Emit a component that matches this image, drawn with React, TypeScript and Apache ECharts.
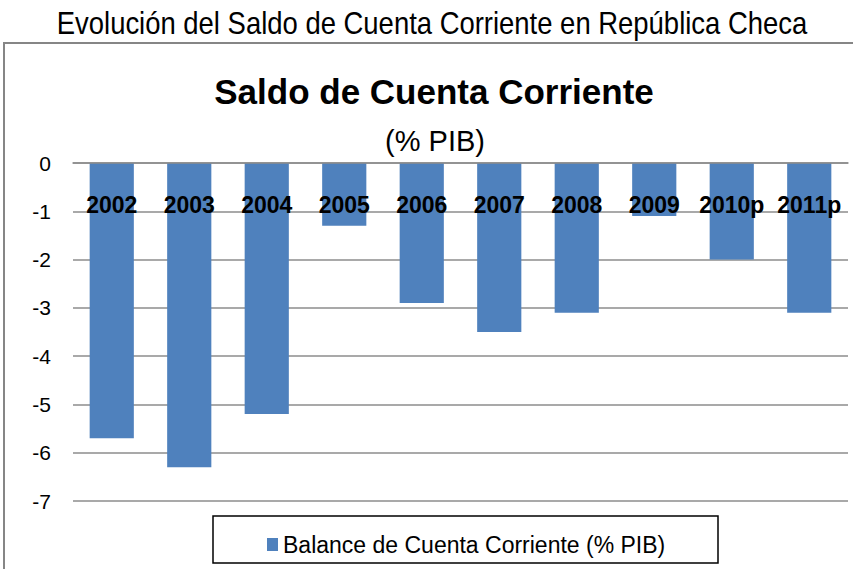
import React, { useEffect, useRef } from "react";
import * as echarts from "echarts";

const categories = ["2002", "2003", "2004", "2005", "2006", "2007", "2008", "2009", "2010p", "2011p"];
const balanceValues = [-5.7, -6.3, -5.2, -1.3, -2.9, -3.5, -3.1, -1.1, -2.0, -3.1];
const seriesName = "Balance de Cuenta Corriente (% PIB)";
const outerTitle = "Evolución del Saldo de Cuenta Corriente en República Checa";
const chartTitle = "Saldo de Cuenta Corriente";
const chartSubtitle = "(% PIB)";

export default function App() {
  const ref = useRef<HTMLDivElement>(null);
  useEffect(() => {
    if (!ref.current) return;
    const chart = echarts.init(ref.current, undefined, { renderer: "svg" });
    const gridColor = "#8c8c8c";
    const font = "'Liberation Sans', Arial, sans-serif";
    chart.setOption({
      animation: false,
      backgroundColor: "#ffffff",
      textStyle: { fontFamily: font },
      grid: { left: 73, right: 5, top: 163, bottom: 68, containLabel: false },
      xAxis: {
        type: "category",
        data: categories,
        position: "top",
        axisLine: { show: true, lineStyle: { color: gridColor, width: 1.5 } },
        axisTick: { show: false },
        axisLabel: {
          inside: true,
          margin: 30,
          fontSize: 23,
          fontWeight: "bold",
          color: "#000",
          fontFamily: font,
          interval: 0,
        },
        z: 10,
      },
      yAxis: {
        type: "value",
        min: -7,
        max: 0,
        interval: 1,
        axisLine: { show: false },
        axisTick: { show: false },
        axisLabel: { fontSize: 21, color: "#000", margin: 22 },
        splitLine: { show: true, lineStyle: { color: gridColor, width: 1.5 } },
      },
      legend: {
        data: [seriesName],
        left: 262,
        top: 528,
        icon: "rect",
        itemWidth: 11,
        itemHeight: 13,
        itemGap: 10,
        textStyle: { fontSize: 23, color: "#000" },
      },
      series: [
        {
          name: seriesName,
          type: "bar",
          data: balanceValues,
          barCategoryGap: "43%",
          itemStyle: { color: "#4F81BD" },
          z: 2,
        },
      ],
      graphic: [
        {
          type: "rect",
          shape: { x: 4, y: 43, width: 900, height: 600 },
          style: { fill: "none", stroke: "#868686", lineWidth: 2 },
          silent: true,
          z: 100,
        },
        {
          type: "rect",
          shape: { x: 213, y: 516, width: 505, height: 47 },
          style: { fill: "none", stroke: "#000", lineWidth: 1.5 },
          silent: true,
          z: 100,
        },
        {
          type: "text",
          x: 432,
          y: 23,
          scaleX: 0.858,
          style: {
            text: outerTitle,
            fontSize: 32,
            fontFamily: font,
            fill: "#000",
            align: "center",
            verticalAlign: "middle",
          },
          z: 100,
        },
        {
          type: "text",
          x: 434,
          y: 91,
          style: {
            text: chartTitle,
            fontSize: 35,
            fontWeight: "bold",
            fontFamily: font,
            fill: "#000",
            align: "center",
            verticalAlign: "middle",
          },
          z: 100,
        },
        {
          type: "text",
          x: 435,
          y: 141,
          style: {
            text: chartSubtitle,
            fontSize: 29,
            fontFamily: font,
            fill: "#000",
            align: "center",
            verticalAlign: "middle",
          },
          z: 100,
        },
      ],
    });
    return () => chart.dispose();
  }, []);
  return (
    <div
      ref={ref}
      style={{ position: "fixed", left: 0, top: 0, width: 853, height: 569 }}
    />
  );
}
